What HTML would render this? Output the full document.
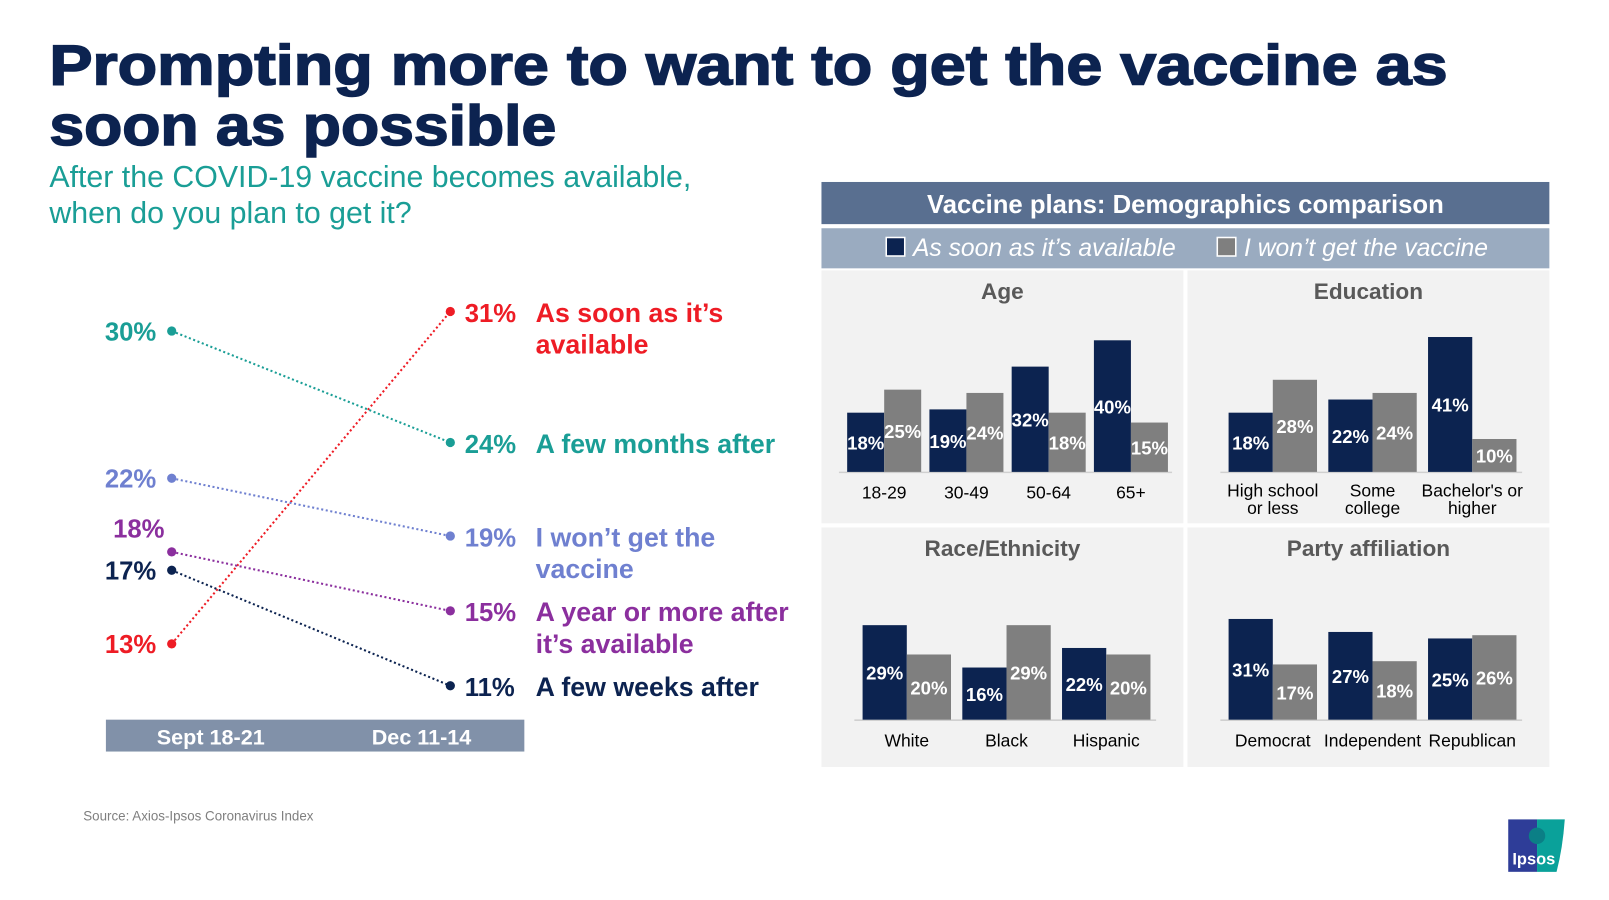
<!DOCTYPE html>
<html><head><meta charset="utf-8"><style>
html,body{margin:0;padding:0;background:#fff;width:1609px;height:900px;overflow:hidden}
svg{display:block}
text{font-family:"Liberation Sans",sans-serif}
.n{font-family:"Liberation Sans Narrow","Liberation Sans",sans-serif}
</style></head><body>
<svg id="c" width="1609" height="900" viewBox="0 0 1565 875.4">
<text x="48" y="82" font-size="55" font-weight="900" fill="#0c2350" textLength="1360" lengthAdjust="spacingAndGlyphs" stroke="#0c2350" stroke-width="1.5">Prompting more to want to get the vaccine as</text>
<text x="48" y="141" font-size="55" font-weight="900" fill="#0c2350" textLength="493" lengthAdjust="spacingAndGlyphs" stroke="#0c2350" stroke-width="1.5">soon as possible</text>
<text x="48" y="182" font-size="29.5" fill="#1a9e96">After the COVID-19 vaccine becomes available,</text>
<text x="48" y="217" font-size="29.5" fill="#1a9e96">when do you plan to get it?</text>
<g id="slope"></g>
<rect x="103" y="700" width="407" height="31" fill="#8191a9"/>
<text x="205" y="724" font-size="21" font-weight="bold" fill="#fff" text-anchor="middle" class="n">Sept 18-21</text>
<text x="410" y="724" font-size="21" font-weight="bold" fill="#fff" text-anchor="middle" class="n">Dec 11-14</text>
<rect x="799" y="177" width="708" height="41" fill="#596f90"/>
<text x="1153" y="207" font-size="25" font-weight="bold" fill="#fff" text-anchor="middle" class="n">Vaccine plans: Demographics comparison</text>
<rect x="799" y="222" width="708" height="39" fill="#9aabc0"/>
<rect x="862" y="231" width="18" height="18" fill="#0c2350" stroke="#fff" stroke-width="1.5"/>
<text x="888" y="249" font-size="24" font-style="italic" fill="#fff" class="n">As soon as it’s available</text>
<rect x="1184" y="231" width="18" height="18" fill="#7f7f7f" stroke="#fff" stroke-width="1.5"/>
<text x="1210" y="249" font-size="24" font-style="italic" fill="#fff" class="n">I won’t get the vaccine</text>
<g id="bars"></g>
<text x="81" y="798" font-size="13" fill="#7f7f7f">Source: Axios-Ipsos Coronavirus Index</text>
<g>
<rect x="1467" y="797" width="28" height="51" fill="#2e3d98"/>
<path d="M1495 797 L1522 797 Q1520 825 1514 848 L1495 848 Z" fill="#0aa19a"/>
<circle cx="1495" cy="813" r="8" fill="#0b7f86"/>
<text x="1471" y="841" font-size="16" font-weight="bold" fill="#fff">Ipsos</text>
</g>
</svg>
<script>
const NS='http://www.w3.org/2000/svg';
// slope chart data
const slopeLabels=['As soon as it’s|available','A few months after','I won’t get the|vaccine','A year or more after|it’s available','A few weeks after'];
const slopeSept=[13,30,22,18,17];
const slopeDec=[31,24,19,15,11];
const slopeColors=['#ee1c25','#1a9e96','#6f80d0','#8b2f9e','#0c2350'];
// bar panel data
const ageCats=['18-29','30-49','50-64','65+'];
const ageSoon=[18,19,32,40];
const ageWont=[25,24,18,15];
const eduCats=['High school|or less','Some|college','Bachelor\'s or|higher'];
const eduSoon=[18,22,41];
const eduWont=[28,24,10];
const raceCats=['White','Black','Hispanic'];
const raceSoon=[29,16,22];
const raceWont=[20,29,20];
const partyCats=['Democrat','Independent','Republican'];
const partySoon=[31,27,25];
const partyWont=[17,18,26];

function mk(tag,attrs,parent){const e=document.createElementNS(NS,tag);for(const k in attrs)e.setAttribute(k,attrs[k]);parent.appendChild(e);return e;}
const yL=v=>322+(30-v)*17.9;
const yR=v=>303+(31-v)*18.2;
const slope=document.getElementById('slope');
slopeSept.forEach((s,i)=>{
  const d=slopeDec[i],col=slopeColors[i];
  const ln=mk('line',{x1:167,y1:yL(s),x2:438,y2:yR(d),stroke:col,'stroke-width':2,'stroke-dasharray':'2 2.5'},slope);
  
  
  const c1=mk('circle',{cx:167,cy:yL(s),r:4.5,fill:col},slope);
  
  
  const c2=mk('circle',{cx:438,cy:yR(d),r:4.5,fill:col},slope);
  
  
  const off=(s===18)?-14:9;
  const tx=(s===18)?160:152;
  const t1=mk('text',{x:tx,y:yL(s)+off,'font-size':25,'font-weight':'bold',fill:col,'text-anchor':'end',class:'n'},slope);
  t1.textContent=s+'%';
  
  
  const t2=mk('text',{x:452,y:yR(d)+10,'font-size':25,'font-weight':'bold',fill:col,class:'n'},slope);
  t2.textContent=d+'%';
  
  
  slopeLabels[i].split('|').forEach((ln2,j)=>{
    const t=mk('text',{x:521,y:yR(d)+10+j*31,'font-size':26,'font-weight':'bold',fill:col,class:'n'},slope);
    t.textContent=ln2;
    
    
  });
});
const bars=document.getElementById('bars');
const panels=[
 {name:'Age',cats:ageCats,soon:ageSoon,wont:ageWont,x:799,y:263,h:246,base:459,x0:824,step:80,bw:36,sc:3.2},
 {name:'Education',cats:eduCats,soon:eduSoon,wont:eduWont,x:1155,y:263,h:246,base:459,x0:1195,step:97,bw:43,sc:3.2},
 {name:'Race/Ethnicity',cats:raceCats,soon:raceSoon,wont:raceWont,x:799,y:513,h:233,base:700,x0:839,step:97,bw:43,sc:3.17},
 {name:'Party affiliation',cats:partyCats,soon:partySoon,wont:partyWont,x:1155,y:513,h:233,base:700,x0:1195,step:97,bw:43,sc:3.16}
];
panels.forEach((p,pi)=>{
  const g=mk('g',{},bars);
  
  
  mk('rect',{x:p.x,y:p.y,width:352,height:p.h,fill:'#f2f2f2'},g);
  const tt=mk('text',{x:p.x+176,y:p.y+28,'font-size':22,'font-weight':'bold',fill:'#595959','text-anchor':'middle',class:'n'},g);
  tt.textContent=p.name;
  
  
  const ax0=p.x0-8;
  mk('line',{x1:ax0,y1:p.base+0.5,x2:p.x0+(p.cats.length)*p.step-(p.step-2*p.bw)/2,y2:p.base+0.5,stroke:'#d0d0d0','stroke-width':1.5},g);
  p.cats.forEach((c,i)=>{
    const gx=p.x0+i*p.step;
    [[p.soon[i],'#0c2350','soon'],[p.wont[i],'#7f7f7f','wont']].forEach(([v,col,k],j)=>{
      const h=v*p.sc,bx=gx+j*p.bw;
      const r=mk('rect',{x:bx,y:p.base-h,width:p.bw,height:h,fill:col},g);
      
      
      const t=mk('text',{x:bx+p.bw/2,y:p.base-h/2+7,'font-size':18,'font-weight':'bold',fill:'#fff','text-anchor':'middle',class:'n'},g);
      t.textContent=v+'%';
      
      
    });
    const lines=c.split('|');
    lines.forEach((l,j)=>{
      const t=mk('text',{x:gx+p.bw,y:p.base+26+j*17-(lines.length>1?2:0),'font-size':17,fill:'#000','text-anchor':'middle'},g);
      t.textContent=l;
      
      
    });
  });
});
</script>
</body></html>
